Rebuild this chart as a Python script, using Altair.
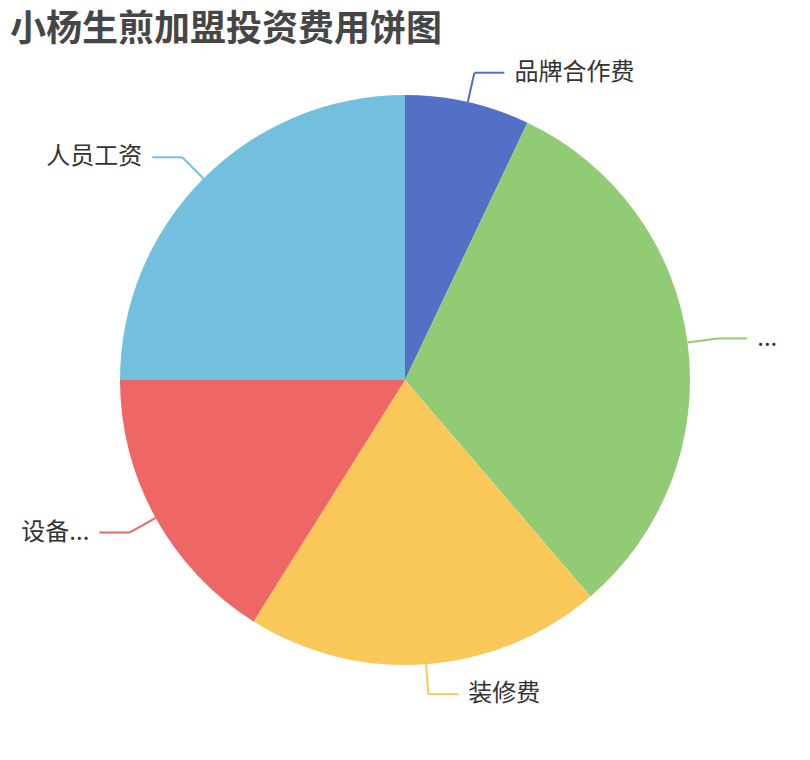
import altair as alt
import pandas as pd

title_text = "小杨生煎加盟投资费用饼图"
categories = ["品牌合作费", "...", "装修费", "设备...", "人员工资"]
values = [7.07, 31.65, 20.19, 16.08, 25.0]
colors = ["#5470c6", "#91cc75", "#fac858", "#ee6666", "#73c0de"]

df = pd.DataFrame({"name": categories, "value": values, "idx": list(range(len(categories)))})

FONT = "Noto Sans CJK SC"
CX, CY, R = 397, 372, 285
L1, L2, GAP = 30, 30, 10

color_scale = alt.Scale(domain=categories, range=colors)

arcs = alt.Chart(df).mark_arc(outerRadius=R).encode(
    theta=alt.Theta("value:Q", stack=True),
    color=alt.Color("name:N", scale=color_scale, legend=None),
    order=alt.Order("idx:Q"),
    x=alt.value(CX),
    y=alt.value(CY),
)

geo = alt.Chart(df).transform_joinaggregate(
    total="sum(value)"
).transform_window(
    cum="sum(value)", sort=[alt.SortField("idx")], frame=[None, 0]
).transform_calculate(
    mid="(datum.cum - datum.value / 2) / datum.total * 2 * PI",
).transform_calculate(
    side="sin(datum.mid) >= 0 ? 1 : -1",
    x0=f"{CX} + {R} * sin(datum.mid)",
    y0=f"{CY} - {R} * cos(datum.mid)",
    x1=f"{CX} + {R + L1} * sin(datum.mid)",
    y1=f"{CY} - {R + L1} * cos(datum.mid)",
).transform_calculate(
    x2=f"datum.x1 + datum.side * {L2}",
    tx=f"datum.x1 + datum.side * {L2 + GAP}",
)

seg1 = geo.mark_rule(strokeWidth=2).encode(
    x=alt.X("x0:Q", scale=None, axis=None),
    y=alt.Y("y0:Q", scale=None, axis=None),
    x2="x1:Q",
    y2="y1:Q",
    color=alt.Color("name:N", scale=color_scale, legend=None),
)
seg2 = geo.mark_rule(strokeWidth=2).encode(
    x=alt.X("x1:Q", scale=None, axis=None),
    y=alt.Y("y1:Q", scale=None, axis=None),
    x2="x2:Q",
    y2="y1:Q",
    color=alt.Color("name:N", scale=color_scale, legend=None),
)

txt_right = geo.transform_filter("datum.side > 0").mark_text(
    align="left", baseline="middle", fontSize=24, font=FONT, color="#333333"
).encode(
    x=alt.X("tx:Q", scale=None, axis=None),
    y=alt.Y("y1:Q", scale=None, axis=None),
    text="name:N",
)
txt_left = geo.transform_filter("datum.side < 0").mark_text(
    align="right", baseline="middle", fontSize=24, font=FONT, color="#333333"
).encode(
    x=alt.X("tx:Q", scale=None, axis=None),
    y=alt.Y("y1:Q", scale=None, axis=None),
    text="name:N",
)

title = alt.Chart(pd.DataFrame({"t": [title_text]})).mark_text(
    align="left", baseline="alphabetic", fontSize=36, fontWeight="bold", font=FONT, color="#464646"
).encode(
    text="t:N",
    x=alt.value(2),
    y=alt.value(33),
)

chart = alt.layer(arcs, seg1, seg2, txt_right, txt_left, title).properties(
    width=794, height=744, autosize="none", padding=0
).configure_view(stroke=None)

chart.save("out.html", embed_options={"renderer": "svg", "actions": False})
